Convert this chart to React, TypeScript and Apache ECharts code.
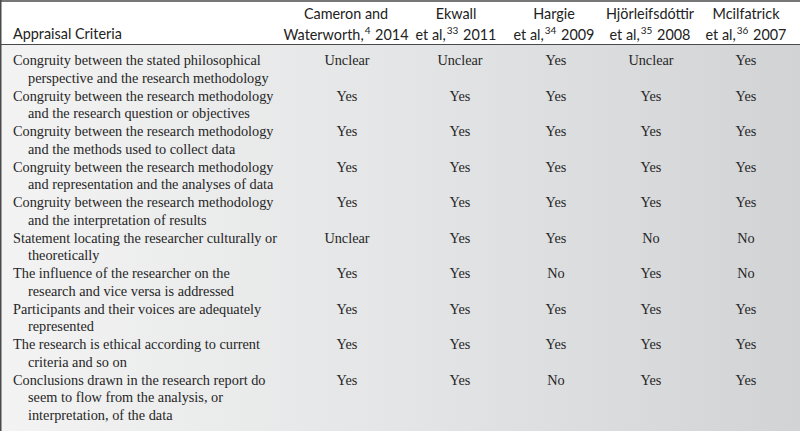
import React, { useEffect, useRef } from "react";
import * as echarts from "echarts";

const criteria: string[][] = [
  ["Congruity between the stated philosophical", "perspective and the research methodology"],
  ["Congruity between the research methodology", "and the research question or objectives"],
  ["Congruity between the research methodology", "and the methods used to collect data"],
  ["Congruity between the research methodology", "and representation and the analyses of data"],
  ["Congruity between the research methodology", "and the interpretation of results"],
  ["Statement locating the researcher culturally or", "theoretically"],
  ["The influence of the researcher on the", "research and vice versa is addressed"],
  ["Participants and their voices are adequately", "represented"],
  ["The research is ethical according to current", "criteria and so on"],
  ["Conclusions drawn in the research report do", "seem to flow from the analysis, or", "interpretation, of the data"],
];

const headerLine1 = ["Cameron and", "Ekwall", "Hargie", "Hjörleifsdóttir", "Mcilfatrick"];
const headerPre = ["Waterworth,", "et al,", "et al,", "et al,", "et al,"];
const headerRef = ["4", "33", "34", "35", "36"];
const headerYear = ["2014", "2011", "2009", "2008", "2007"];

const cameron = ["Unclear", "Yes", "Yes", "Yes", "Yes", "Unclear", "Yes", "Yes", "Yes", "Yes"];
const ekwall = ["Unclear", "Yes", "Yes", "Yes", "Yes", "Yes", "Yes", "Yes", "Yes", "Yes"];
const hargie = ["Yes", "Yes", "Yes", "Yes", "Yes", "Yes", "No", "Yes", "Yes", "No"];
const hjorleifsdottir = ["Unclear", "Yes", "Yes", "Yes", "Yes", "No", "Yes", "Yes", "Yes", "Yes"];
const mcilfatrick = ["Yes", "Yes", "Yes", "Yes", "Yes", "No", "No", "Yes", "Yes", "Yes"];

const studies = [cameron, ekwall, hargie, hjorleifsdottir, mcilfatrick];

export default function App() {
  const ref = useRef<HTMLDivElement>(null);
  useEffect(() => {
    document.body.style.margin = "0";
    const chart = echarts.init(ref.current!, undefined, { renderer: "svg" });
    const W = 800;
    const H = 431;
    const colX = [347, 460, 556, 651, 746];
    const hdrX = [346, 456, 554, 650, 746];
    const lineH = 17.75;
    const firstY = 60;
    const serif = "'Liberation Serif', 'Times New Roman', serif";
    const sans = "Lato, 'Open Sans', sans-serif";
    const bodyColor = "#262626";
    const elements: any[] = [];

    elements.push({
      type: "rect",
      shape: { x: 0, y: 44, width: W, height: H - 44 },
      style: {
        fill: new echarts.graphic.LinearGradient(0, 0, 1, 0, [
          { offset: 0, color: "#f3f3f3" },
          { offset: 0.5, color: "#e4e5e6" },
          { offset: 1, color: "#d2d3d5" },
        ]),
      },
      silent: true,
    });
    elements.push({ type: "line", shape: { x1: 0, y1: 1, x2: W, y2: 1 }, style: { stroke: "#4a4a4a", lineWidth: 1.5 } });
    elements.push({ type: "line", shape: { x1: 0, y1: 44.5, x2: W, y2: 44.5 }, style: { stroke: "#4a4a4a", lineWidth: 1.2 } });
    elements.push({ type: "line", shape: { x1: 0.75, y1: 0, x2: 0.75, y2: H }, style: { stroke: "#4a4a4a", lineWidth: 1.5 } });

    elements.push({
      type: "text",
      x: 13,
      y: 33,
      style: { text: "Appraisal Criteria", font: `14.4px ${sans}`, fill: "#222", textAlign: "left", textVerticalAlign: "middle" },
    });

    headerLine1.forEach((h, i) => {
      elements.push({
        type: "text",
        x: hdrX[i],
        y: 13,
        style: { text: h, font: `14.4px ${sans}`, fill: "#222", textAlign: "center", textVerticalAlign: "middle" },
      });
      elements.push({
        type: "text",
        x: hdrX[i],
        y: 33,
        style: {
          text: `{a|${headerPre[i]}}{s|${headerRef[i]}}{a| ${headerYear[i]}}`,
          textAlign: "center",
          textVerticalAlign: "middle",
          rich: {
            a: { font: `14.4px ${sans}`, fill: "#222", lineHeight: 17, verticalAlign: "bottom" },
            s: { font: `10px ${sans}`, fill: "#222", lineHeight: 17, verticalAlign: "top", padding: [0, 1, 0, 1] },
          },
        },
      });
    });

    let line = 0;
    criteria.forEach((lines, r) => {
      const y0 = firstY + line * lineH;
      lines.forEach((t, k) => {
        elements.push({
          type: "text",
          x: k === 0 ? 13 : 28,
          y: firstY + (line + k) * lineH,
          style: { text: t, font: `14.3px ${serif}`, fill: bodyColor, textAlign: "left", textVerticalAlign: "middle" },
        });
      });
      studies.forEach((s, c) => {
        elements.push({
          type: "text",
          x: colX[c],
          y: y0,
          style: { text: s[r], font: `14.3px ${serif}`, fill: bodyColor, textAlign: "center", textVerticalAlign: "middle" },
        });
      });
      line += lines.length;
    });

    chart.setOption({ animation: false, backgroundColor: "#ffffff", graphic: { elements } });
    return () => chart.dispose();
  }, []);
  return <div ref={ref} style={{ width: 800, height: 431, position: "absolute", left: 0, top: 0 }} />;
}
